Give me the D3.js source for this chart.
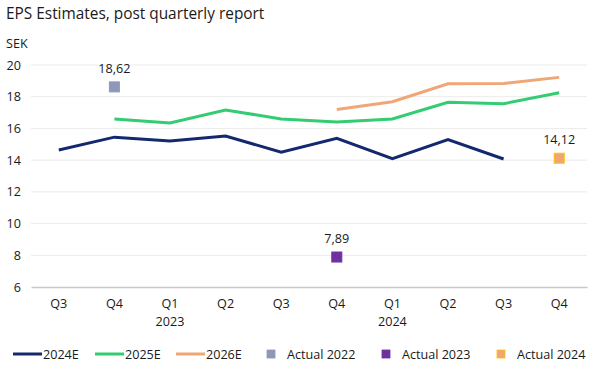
<!DOCTYPE html>
<html>
<head>
<meta charset="utf-8">
<script src="https://cdn.jsdelivr.net/npm/d3@7"></script>
<style>
  body { margin: 0; background: #fff; }
  text { font-family: "Open Sans", Lato, sans-serif; fill: #1a1a1a; }
</style>
</head>
<body>
<svg id="chart" width="600" height="367"></svg>
<script>
var quarters = ["Q3", "Q4", "Q1", "Q2", "Q3", "Q4", "Q1", "Q2", "Q3", "Q4"];
var years = ["", "", "2023", "", "", "", "2024", "", "", ""];
var yTicks = [6, 8, 10, 12, 14, 16, 18, 20];

var est2024 = [14.64, 15.45, 15.2, 15.52, 14.5, 15.37, 14.09, 15.29, 14.07, null];
var est2025 = [null, 16.6, 16.34, 17.16, 16.6, 16.4, 16.6, 17.65, 17.56, 18.25];
var est2026 = [null, null, null, null, null, 17.2, 17.68, 18.82, 18.84, 19.22];

var actuals = [
  { name: "Actual 2022", idx: 1, value: 18.62, color: "#8e99ba", stroke: "#8e99ba" },
  { name: "Actual 2023", idx: 5, value: 7.89, color: "#7030a0", stroke: "#7030a0" },
  { name: "Actual 2024", idx: 9, value: 14.12, color: "#eea674", stroke: "#ffc000" }
];

var series = [
  { name: "2024E", values: est2024, color: "#13296f" },
  { name: "2025E", values: est2025, color: "#33cc73" },
  { name: "2026E", values: est2026, color: "#f0a676" }
];

function drawChart() {
  var svg = d3.select("#chart");
  var plotLeft = 31, plotRight = 587, plotTop = 65, plotBottom = 287;
  var fs = "12.6px";

  var x = d3.scaleBand()
      .domain(d3.range(quarters.length))
      .range([plotLeft, plotRight]);

  var y = d3.scaleLinear()
      .domain([6, 20])
      .range([plotBottom, plotTop]);

  var cx = i => x(i) + x.bandwidth() / 2;

  svg.append("text")
    .attr("x", 6).attr("y", 19)
    .style("font-size", "15.4px")
    .text("EPS Estimates, post quarterly report");

  svg.append("text")
    .attr("x", 6).attr("y", 48)
    .style("font-size", fs)
    .text("SEK");

  // gridlines
  svg.append("g")
    .selectAll("line")
    .data(yTicks.filter(d => d > 6))
    .enter().append("line")
      .attr("x1", plotLeft).attr("x2", plotRight)
      .attr("y1", d => y(d)).attr("y2", d => y(d))
      .attr("stroke", "#ebebeb")
      .attr("stroke-width", 1);

  var yAxis = svg.append("g")
    .attr("transform", "translate(" + (plotLeft - 10) + ",0)")
    .call(d3.axisLeft(y).tickValues(yTicks).tickSize(0).tickPadding(0));
  yAxis.select(".domain").remove();
  yAxis.selectAll("text")
    .style("font-size", fs)
    .style("font-family", "'Open Sans', sans-serif")
    .attr("fill", "#1a1a1a");

  var xAxis = svg.append("g")
    .attr("transform", "translate(0," + plotBottom + ")")
    .call(d3.axisBottom(x).tickSize(0).tickPadding(12).tickFormat(i => quarters[i]));
  xAxis.select(".domain").attr("stroke", "#c8c8c8").attr("stroke-width", 1.5);
  xAxis.selectAll("text")
    .style("font-size", fs)
    .style("font-family", "'Open Sans', sans-serif")
    .attr("fill", "#1a1a1a");

  svg.append("g")
    .selectAll("text")
    .data(years)
    .enter().append("text")
      .attr("x", (d, i) => cx(i))
      .attr("y", 326)
      .attr("text-anchor", "middle")
      .style("font-size", fs)
      .text(d => d);

  var line = d3.line()
    .defined(d => d != null)
    .x((d, i) => cx(i))
    .y(d => y(d));

  svg.append("g")
    .selectAll("path")
    .data(series)
    .enter().append("path")
      .attr("d", d => line(d.values))
      .attr("fill", "none")
      .attr("stroke", d => d.color)
      .attr("stroke-width", 3)
      .attr("stroke-linejoin", "miter");

  var act = svg.append("g").selectAll("g")
    .data(actuals)
    .enter().append("g");

  act.append("rect")
    .attr("x", d => cx(d.idx) - 5)
    .attr("y", d => y(d.value) - 5)
    .attr("width", 10).attr("height", 10)
    .attr("fill", d => d.color)
    .attr("stroke", d => d.stroke)
    .attr("stroke-width", 1);

  act.append("text")
    .attr("x", d => cx(d.idx))
    .attr("y", d => y(d.value) - 14)
    .attr("text-anchor", "middle")
    .style("font-size", fs)
    .text(d => d3.format(".2f")(d.value).replace(".", ","));

  // legend
  var legendY = 354;
  var lineLegend = [
    { s: series[0], x: 13 },
    { s: series[1], x: 95 },
    { s: series[2], x: 176 }
  ];
  var lg = svg.append("g").selectAll("g")
    .data(lineLegend)
    .enter().append("g");
  lg.append("line")
    .attr("x1", d => d.x).attr("x2", d => d.x + 29)
    .attr("y1", legendY).attr("y2", legendY)
    .attr("stroke", d => d.s.color)
    .attr("stroke-width", 3);
  lg.append("text")
    .attr("x", d => d.x + 30)
    .attr("y", legendY + 4.5)
    .style("font-size", fs)
    .text(d => d.s.name);

  var squareLegend = [
    { a: actuals[0], x: 267 },
    { a: actuals[1], x: 382 },
    { a: actuals[2], x: 497 }
  ];
  var sg = svg.append("g").selectAll("g")
    .data(squareLegend)
    .enter().append("g");
  sg.append("rect")
    .attr("x", d => d.x).attr("y", legendY - 4)
    .attr("width", 8).attr("height", 8)
    .attr("fill", d => d.a.color)
    .attr("stroke", d => d.a.stroke)
    .attr("stroke-width", 0.8);
  sg.append("text")
    .attr("x", d => d.x + 20)
    .attr("y", legendY + 4.5)
    .style("font-size", fs)
    .text(d => d.a.name);
}

drawChart();
</script>
</body>
</html>
